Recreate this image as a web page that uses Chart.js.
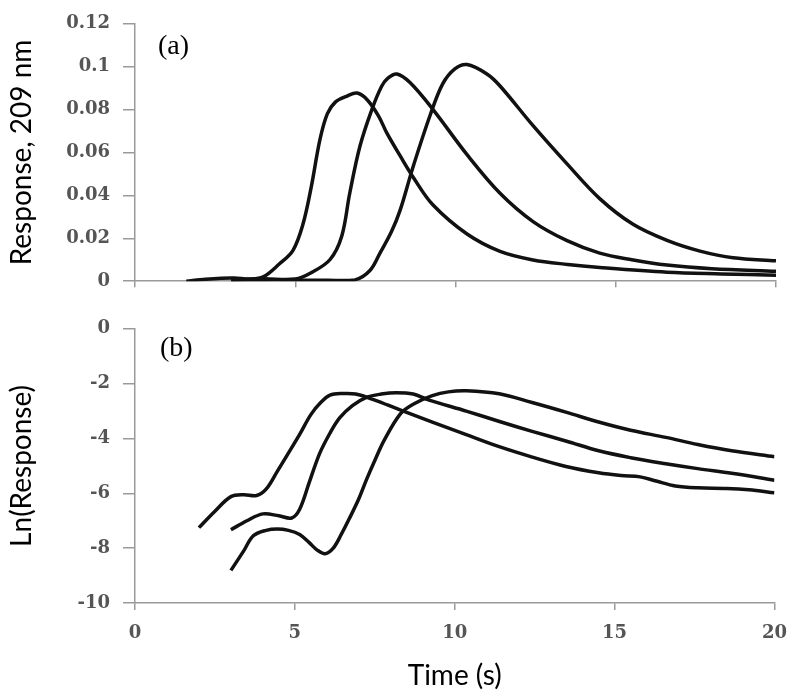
<!DOCTYPE html>
<html>
<head>
<meta charset="utf-8">
<script src="https://cdn.jsdelivr.net/npm/chart.js@4.4.1/dist/chart.umd.min.js"></script>
<style>
  html, body { margin: 0; padding: 0; background: #fff; }
  #wrap { position: relative; width: 800px; height: 697px; }
  .panel { position: absolute; left: 0; width: 800px; }
  #top-panel { top: 0; height: 305px; }
  #bottom-panel { top: 305px; height: 392px; }
</style>
</head>
<body>
<div id="wrap">
  <div class="panel" id="top-panel"><canvas id="chart-a"></canvas></div>
  <div class="panel" id="bottom-panel"><canvas id="chart-b"></canvas></div>
</div>
<script>
'use strict';

// Panel (a): response at 209 nm, three injections
var respTimeA = [1.6, 2.2, 2.7, 3.1, 3.6, 4.0, 4.5, 4.93, 5.24, 5.5, 5.77, 6.0, 6.25, 6.6, 6.93, 7.25, 7.6, 7.86, 8.27, 8.7, 9.3, 10.36, 11.39, 12.42, 13.5, 14.5, 16.6, 18.3, 20];
var respValA = [0, 0.0009, 0.0014, 0.0015, 0.001, 0.002, 0.008, 0.0144, 0.0265, 0.044, 0.066, 0.078, 0.0835, 0.0862, 0.0877, 0.0845, 0.077, 0.069, 0.0585, 0.048, 0.0355, 0.022, 0.0139, 0.0099, 0.0078, 0.0064, 0.0042, 0.0034, 0.0028];

var respTimeB = [3, 4, 5, 5.5, 6.08, 6.45, 6.7, 7.02, 7.39, 7.7, 7.9, 8.17, 8.58, 9.3, 10.36, 11.39, 12.42, 13.48, 14.5, 15.5, 16.6, 18.0, 20];
var respValB = [0.0006, 0.0011, 0.001, 0.004, 0.010, 0.021, 0.041, 0.063, 0.080, 0.091, 0.0948, 0.0966, 0.0926, 0.080, 0.059, 0.041, 0.0278, 0.0189, 0.0131, 0.0100, 0.0075, 0.0058, 0.0046];

var respTimeC = [3, 4, 5, 6, 6.86, 7.33, 7.64, 8.0, 8.27, 8.67, 9.2, 9.6, 9.98, 10.36, 10.98, 11.39, 12.42, 13.48, 14.5, 15.54, 16.6, 17.63, 18.66, 20];
var respValC = [0.0002, 0.0005, 0.0005, 0.0004, 0.0006, 0.005, 0.013, 0.023, 0.033, 0.053, 0.077, 0.092, 0.099, 0.101, 0.0966, 0.091, 0.0725, 0.0547, 0.0385, 0.0265, 0.019, 0.014, 0.0109, 0.0095];

// Panel (b): ln(response)
var lnTimeA = [2, 2.5, 3.0, 3.4, 3.8, 4.1, 4.45, 4.84, 5.15, 5.5, 5.8, 6.1, 6.5, 6.9, 7.5, 8.27, 9.3, 10.36, 11.39, 12.4, 13.48, 14.5, 15.2, 15.8, 16.3, 16.9, 17.6, 18.5, 19.2, 20];
var lnValA = [-7.25, -6.65, -6.12, -6.05, -6.08, -5.85, -5.2, -4.45, -3.85, -3.13, -2.7, -2.42, -2.36, -2.38, -2.6, -2.95, -3.4, -3.86, -4.3, -4.67, -5.02, -5.25, -5.35, -5.4, -5.55, -5.73, -5.8, -5.82, -5.87, -5.98];

var lnTimeB = [3, 3.5, 4.0, 4.5, 4.9, 5.15, 5.45, 5.77, 6.1, 6.4, 6.8, 7.24, 7.7, 8.17, 8.7, 9.2, 10.36, 11.4, 12.42, 13.5, 14.5, 15.5, 16.6, 17.6, 18.66, 20];
var lnValB = [-7.33, -7.0, -6.75, -6.82, -6.9, -6.58, -5.6, -4.56, -3.8, -3.25, -2.8, -2.5, -2.38, -2.33, -2.38, -2.6, -3.0, -3.38, -3.74, -4.1, -4.45, -4.7, -4.92, -5.1, -5.27, -5.52];

var lnTimeC = [3, 3.4, 3.7, 4.1, 4.45, 4.8, 5.15, 5.45, 5.7, 5.95, 6.2, 6.45, 6.7, 7.0, 7.24, 7.5, 7.8, 8.3, 8.7, 9.3, 9.8, 10.36, 11.39, 12.42, 13.5, 14.5, 15.5, 16.6, 17.6, 18.66, 20];
var lnValC = [-8.81, -8.1, -7.55, -7.35, -7.3, -7.35, -7.5, -7.8, -8.07, -8.2, -8.0, -7.5, -6.93, -6.2, -5.5, -4.8, -4.05, -3.1, -2.75, -2.44, -2.3, -2.26, -2.37, -2.69, -3.05, -3.4, -3.7, -3.96, -4.22, -4.45, -4.67];

var timeTicks = { min: 0, max: 20, step: 5 };

var axisColor = '#9a9a9a';
var tickFont = { family: '"DejaVu Serif", serif', size: 18, weight: 'bold' };
var titleFont = { family: 'Lato, "Open Sans", sans-serif', size: 28 };

function toPoints(times, values) {
  return times.map(function (t, i) {
    return { x: t, y: values[i] };
  });
}

function lineDataset(times, values) {
  return {
    data: toPoints(times, values),
    borderColor: '#111',
    borderWidth: 3.5,
    pointRadius: 0,
    fill: false,
    tension: 0.35
  };
}

// Draws "(a)" / "(b)" inside the plot area
var panelLabelPlugin = {
  id: 'panelLabel',
  afterDraw: function (chart, args, opts) {
    var ctx = chart.ctx,
        area = chart.chartArea;
    ctx.save();
    ctx.font = '28px "Liberation Serif", "Times New Roman", serif';
    ctx.fillStyle = '#000';
    ctx.textAlign = 'left';
    ctx.textBaseline = 'alphabetic';
    ctx.fillText(opts.text, area.left + opts.x, area.top + opts.y);
    ctx.restore();
  }
};

function gridOpts(len) {
  return { drawOnChartArea: false, drawTicks: true, tickLength: len, color: axisColor, lineWidth: 1.5 };
}

function baseOptions(label, padTop) {
  return {
    responsive: true,
    maintainAspectRatio: false,
    animation: false,
    layout: { padding: { left: 0, right: 24, top: padTop, bottom: 0 } },
    plugins: {
      legend: { display: false },
      tooltip: { enabled: false },
      panelLabel: label
    }
  };
}

// Top panel
var optsA = baseOptions({ text: '(a)', x: 23, y: 30 }, 21);
optsA.scales = {
  x: {
    type: 'linear',
    min: timeTicks.min,
    max: timeTicks.max,
    ticks: { stepSize: timeTicks.step, display: false },
    grid: gridOpts(6),
    border: { color: axisColor, width: 1.5 },
    afterFit: function (scale) { scale.height = 16; }
  },
  y: {
    min: 0,
    max: 0.12,
    ticks: {
      stepSize: 0.02,
      font: tickFont,
      color: '#555',
      padding: 13,
      callback: function (v) { return String(Number(v.toFixed(2))); }
    },
    grid: gridOpts(12),
    border: { color: axisColor, width: 1.5 },
    title: { display: true, text: 'Response, 209 nm', font: titleFont, color: '#000', padding: { top: 5, bottom: 0 } },
    afterFit: function (scale) { scale.width = 135; }
  }
};

new Chart(document.getElementById('chart-a'), {
  type: 'line',
  data: {
    datasets: [
      lineDataset(respTimeA, respValA),
      lineDataset(respTimeB, respValB),
      lineDataset(respTimeC, respValC)
    ]
  },
  options: optsA,
  plugins: [panelLabelPlugin]
});

// Bottom panel
var optsB = baseOptions({ text: '(b)', x: 25, y: 27 }, 16);
optsB.scales = {
  x: {
    type: 'linear',
    min: timeTicks.min,
    max: timeTicks.max,
    ticks: { stepSize: timeTicks.step, font: tickFont, color: '#555', padding: 13, maxRotation: 0 },
    grid: gridOpts(7),
    border: { color: axisColor, width: 1.5 },
    title: { display: true, text: 'Time (s)', font: titleFont, color: '#000', padding: { top: 0, bottom: 4 } },
    afterFit: function (scale) { scale.height = 94; }
  },
  y: {
    min: -10,
    max: 0,
    ticks: {
      stepSize: 2,
      font: tickFont,
      color: '#555',
      padding: 13,
      callback: function (v) { return String(v); }
    },
    grid: gridOpts(12),
    border: { color: axisColor, width: 1.5 },
    title: { display: true, text: 'Ln(Response)', font: titleFont, color: '#000', padding: { top: 5, bottom: 0 } },
    afterFit: function (scale) { scale.width = 135; }
  }
};

new Chart(document.getElementById('chart-b'), {
  type: 'line',
  data: {
    datasets: [
      lineDataset(lnTimeA, lnValA),
      lineDataset(lnTimeB, lnValB),
      lineDataset(lnTimeC, lnValC)
    ]
  },
  options: optsB,
  plugins: [panelLabelPlugin]
});
</script>
</body>
</html>
